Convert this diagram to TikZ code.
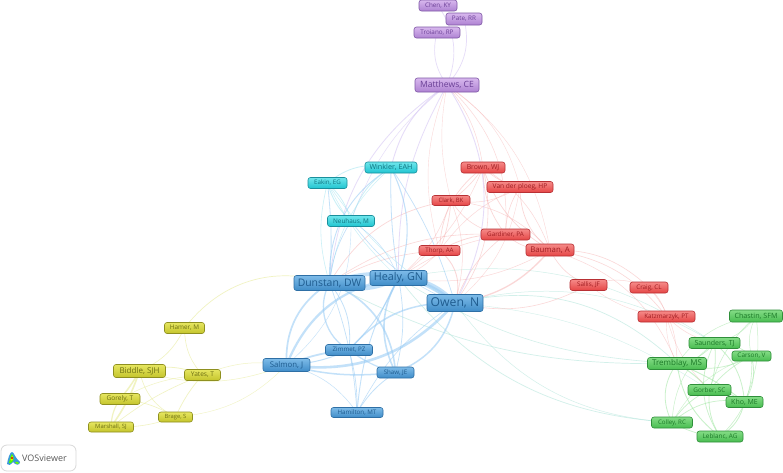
\documentclass[tikz,border=0pt]{standalone}
\usepackage{fontspec}
\setmainfont{Open Sans}
\pgfdeclarelayer{bg}
\pgfsetlayers{bg,main}
\definecolor{bT}{HTML}{1F5C8F}\definecolor{bU}{HTML}{7DBBE8}\definecolor{bL}{HTML}{3F8CC8}\definecolor{bD}{HTML}{2E6FA5}
\definecolor{cT}{HTML}{0F7480}\definecolor{cU}{HTML}{6FE6EC}\definecolor{cL}{HTML}{1FC4D0}\definecolor{cD}{HTML}{1A8F9C}
\definecolor{rT}{HTML}{A01E22}\definecolor{rU}{HTML}{F58A88}\definecolor{rL}{HTML}{E54545}\definecolor{rD}{HTML}{B83034}
\definecolor{gT}{HTML}{1C7A28}\definecolor{gU}{HTML}{84DC86}\definecolor{gL}{HTML}{48BC50}\definecolor{gD}{HTML}{2F8F3A}
\definecolor{yT}{HTML}{6E7014}\definecolor{yU}{HTML}{E6E660}\definecolor{yL}{HTML}{C4C42C}\definecolor{yD}{HTML}{8F9020}
\definecolor{pT}{HTML}{6A3F96}\definecolor{pU}{HTML}{D8B8EE}\definecolor{pL}{HTML}{AE82D2}\definecolor{pD}{HTML}{7F58A6}
\definecolor{eB}{HTML}{9CCDF5}\definecolor{eC}{HTML}{A8E6F2}\definecolor{eR}{HTML}{F6A8A8}\definecolor{eG}{HTML}{A6E8A8}
\definecolor{eY}{HTML}{E8EC9A}\definecolor{eP}{HTML}{D6C6F4}\definecolor{eT}{HTML}{B4E6DC}
\tikzset{
 auth/.style={rounded corners=2.5pt,line width=0.6pt,inner sep=0pt,align=center},
 blue/.style={auth,draw=bD,top color=bU,bottom color=bL,text=bT},
 cyan/.style={auth,draw=cD,top color=cU,bottom color=cL,text=cT},
 red/.style={auth,draw=rD,top color=rU,bottom color=rL,text=rT},
 green/.style={auth,draw=gD,top color=gU,bottom color=gL,text=gT},
 yellow/.style={auth,draw=yD,top color=yU,bottom color=yL,text=yT},
 purple/.style={auth,draw=pD,top color=pU,bottom color=pL,text=pT},
 sz/.style args={#1/#2/#3}{minimum width=#1pt,minimum height=#2pt,font=\fontsize{#3}{#3}\selectfont},
 lnk/.style={line cap=round,opacity=0.6},
}
\newcommand{\links}[2]{\foreach \a/\b/\c/\w in {#2}{\draw[lnk,#1,line width=\w pt] (\a.center) to[bend left=\c] (\b.center);}}
\begin{document}
\begin{tikzpicture}[x=1pt,y=-1pt]
\useasboundingbox (0,0) rectangle (783,472);
% purple
\node[purple,sz=38/11/6.3] (chen) at (438,5.5) {Chen, KY};
\node[purple,sz=36/12/6.3] (pate) at (464,19) {Pate, RR};
\node[purple,sz=46/11/6.3] (troiano) at (437,32.5) {Troiano, RP};
\node[purple,sz=64/14/8.6] (matthews) at (447,85) {Matthews, CE};
% cyan
\node[cyan,sz=52/11/7.2] (winkler) at (391,167.5) {Winkler, EAH};
\node[cyan,sz=39/11/6.2] (eakin) at (327.5,183) {Eakin, EG};
\node[cyan,sz=47/11/6.4] (neuhaus) at (351,221) {Neuhaus, M};
% red
\node[red,sz=44/11/6.9] (brown) at (483,167.5) {Brown, WJ};
\node[red,sz=66/11/6.6] (vdp) at (520,187) {Van der ploeg, HP};
\node[red,sz=38/10/6] (clark) at (451,200.5) {Clark, BK};
\node[red,sz=49/11/6.3] (gardiner) at (505.5,234.5) {Gardiner, PA};
\node[red,sz=41/10/6.2] (thorp) at (439.5,250.5) {Thorp, AA};
\node[red,sz=48/12/7.8] (bauman) at (550,250) {Bauman, A};
\node[red,sz=37/11/6.3] (sallis) at (588.5,285) {Sallis, JF};
\node[red,sz=38/11/6.3] (craig) at (649,287.5) {Craig, CL};
\node[red,sz=57/11/6.3] (katz) at (666.5,316.5) {Katzmarzyk, PT};
% blue
\node[blue,sz=71/15/10.4] (dunstan) at (329.5,283) {Dunstan, DW};
\node[blue,sz=57/15/10.8] (healy) at (398.5,278) {Healy, GN};
\node[blue,sz=56/17/12.2] (owen) at (455,303) {Owen, N};
\node[blue,sz=47/13/7.8] (salmon) at (286.5,365) {Salmon, J};
\node[blue,sz=47/11/6.2] (zimmet) at (349,350) {Zimmet, PZ};
\node[blue,sz=37/11/6.2] (shaw) at (395.5,372.5) {Shaw, JE};
\node[blue,sz=52/10/6.2] (hamilton) at (357,412.5) {Hamilton, MT};
% green
\node[green,sz=53/12/7.2] (chastin) at (756,316) {Chastin, SFM};
\node[green,sz=51/11/7] (saunders) at (714.5,343) {Saunders, TJ};
\node[green,sz=39/10/6.4] (carson) at (751.5,356) {Carson, V};
\node[green,sz=59/12/8] (tremblay) at (677,363.5) {Tremblay, MS};
\node[green,sz=43/11/6.4] (gorber) at (709.5,390) {Gorber, SC};
\node[green,sz=37/11/7] (kho) at (744.5,402) {Kho, ME};
\node[green,sz=41/11/6.2] (colley) at (672,422.5) {Colley, RC};
\node[green,sz=46/11/6.4] (leblanc) at (720,436.5) {Leblanc, AG};
% yellow
\node[yellow,sz=40/11/6.4] (hamer) at (184.5,328) {Hamer, M};
\node[yellow,sz=52/13/8] (biddle) at (139.5,371) {Biddle, SJH};
\node[yellow,sz=36/11/6.6] (yates) at (202.5,375) {Yates, T};
\node[yellow,sz=40/11/6.6] (gorely) at (120,399) {Gorely, T};
\node[yellow,sz=34/10/5.8] (brage) at (175.5,417) {Brage, S};
\node[yellow,sz=45/10/5.9] (marshall) at (111,427) {Marshall, SJ};
% logo box
\node[rounded corners=6pt,draw=black!15,line width=0.8pt,fill=white,minimum width=75pt,minimum height=26pt,inner sep=0pt] (vosbox) at (38.5,458) {};
\node[anchor=west,inner sep=0pt,text=black!65,font=\fontsize{9}{9}\selectfont] (vostext) at (22,458.5) {VOSviewer};
\fill[cyan!70!blue!80] (7,464) .. controls (8,458) and (10,452) .. (12,452) .. controls (14,452) and (15,458) .. (20,462) .. controls (20,466) and (15,465) .. (13,462) .. controls (11,465) and (8,466) .. (7,464) -- cycle;
\fill[green!70!yellow] (9,463) .. controls (10,458) and (11,455) .. (12,454) .. controls (14,457) and (14,460) .. (13,461) .. controls (11,463) and (10,464) .. (9,463) -- cycle;
\fill[yellow!90!orange] (10.5,460) .. controls (11,457) and (12,456) .. (12.5,456) .. controls (13.5,458) and (13.5,460) .. (12,460.5) -- cycle;
\fill[red!85!black] (12,458) circle (1.1);
\fill[green!60!yellow] (15,462) .. controls (17,461) and (19,462) .. (19,463.5) .. controls (17,464.5) and (16,464) .. (15,462) -- cycle;
\begin{pgfonlayer}{bg}
\fill[white] (0,0) rectangle (783,472);
\links{eG}{
 tremblay/saunders/-20/0.7,tremblay/carson/-22/0.7,tremblay/gorber/8/1.0,tremblay/kho/8/0.9,tremblay/colley/-32/0.8,tremblay/leblanc/-22/0.9,
 saunders/carson/20/0.7,saunders/gorber/12/0.8,saunders/kho/22/0.8,saunders/colley/-25/0.5,saunders/leblanc/-30/0.7,saunders/chastin/-20/0.5,
 chastin/carson/-20/0.5,chastin/gorber/-15/0.5,chastin/kho/15/0.5,carson/gorber/-12/0.7,carson/kho/22/0.7,carson/leblanc/25/0.6,carson/colley/-20/0.4,
 gorber/kho/15/0.8,gorber/colley/-15/0.7,gorber/leblanc/-18/0.8,kho/colley/-25/0.7,kho/leblanc/22/0.8,colley/leblanc/-12/0.7,tremblay/chastin/22/0.5}
\links{eT}{
 owen/tremblay/28/0.7,dunstan/tremblay/-14/0.7,healy/tremblay/-14/0.6,healy/colley/-24/0.7,owen/colley/-25/0.5,owen/saunders/22/0.5,owen/gorber/14/0.4,healy/saunders/22/0.5}
\links{eR,opacity=0.45}{
 brown/gardiner/-18/0.7,brown/clark/10/0.6,brown/thorp/-25/0.7,brown/vdp/-15/0.6,brown/bauman/-20/0.7,brown/bauman/18/0.5,brown/owen/24/0.6,brown/healy/15/0.5,
 clark/gardiner/-25/0.6,clark/thorp/8/0.7,clark/healy/15/0.5,clark/dunstan/-25/0.7,clark/vdp/-20/0.5,clark/owen/18/0.5,clark/bauman/20/0.5,
 vdp/gardiner/-15/0.6,vdp/bauman/-25/0.7,vdp/thorp/-15/0.5,vdp/owen/20/0.4,gardiner/thorp/-15/0.8,gardiner/bauman/-20/0.6,gardiner/owen/-15/0.6,gardiner/dunstan/-18/0.6,gardiner/healy/-12/0.5,
 thorp/owen/35/0.9,thorp/dunstan/-12/0.6,thorp/healy/15/0.5,bauman/owen/20/1.3,bauman/healy/18/0.5,bauman/sallis/-20/0.6,bauman/craig/22/0.6,bauman/katz/22/0.6,
 sallis/craig/20/0.5,sallis/owen/20/0.6,sallis/katz/-15/0.4,craig/katz/15/0.5,craig/tremblay/20/0.5,katz/tremblay/-15/0.4,katz/saunders/-15/0.5,katz/gorber/-15/0.4,bauman/tremblay/25/0.5,
 matthews/brown/15/0.5,matthews/clark/-12/0.4,matthews/vdp/20/0.4,matthews/gardiner/25/0.5,matthews/bauman/22/0.4,matthews/thorp/-18/0.4}
\links{eP}{
 chen/matthews/28/0.7,pate/matthews/28/0.7,troiano/matthews/-25/0.7,matthews/winkler/-20/0.9,matthews/owen/31/0.9,matthews/healy/-15/0.8,matthews/dunstan/-25/0.8,matthews/neuhaus/-15/0.5}
\links{eY}{
 hamer/dunstan/35/0.7,hamer/biddle/20/0.6,hamer/yates/-20/0.6,
 biddle/yates/18/0.8,biddle/brage/-25/0.6,biddle/salmon/-18/0.5,
 gorely/yates/12/0.5,gorely/brage/12/0.6,brage/salmon/-20/0.4,
 marshall/brage/-10/0.6,marshall/yates/8/0.6,brage/yates/8/0.7,yates/salmon/15/0.5}
\links{eY}{biddle/gorely/5/1.5,biddle/marshall/8/1.6,gorely/marshall/-15/1.2}
\links{eC}{
 eakin/neuhaus/-15/0.9,eakin/neuhaus/15/0.7,eakin/winkler/25/0.8,winkler/neuhaus/-20/0.8,eakin/healy/-10/0.5,eakin/owen/-12/0.5,eakin/dunstan/-15/0.6,winkler/dunstan/-20/0.5}
\links{eB}{
 winkler/healy/22/1.1,winkler/healy/-5/0.8,winkler/owen/8/0.7,winkler/dunstan/-30/0.9,neuhaus/dunstan/-12/0.7,neuhaus/owen/-15/0.6,neuhaus/healy/18/0.5,neuhaus/salmon/25/0.4,eakin/dunstan/5/0.8,
 dunstan/healy/-22/4.5,dunstan/owen/29/3.8,healy/owen/22/4.2,
 salmon/dunstan/30/1.7,salmon/healy/30/2.2,salmon/owen/-28/2.6,salmon/zimmet/8/1.8,salmon/shaw/-10/1.5,salmon/zimmet/-10/1.0,
 zimmet/owen/25/1.5,zimmet/dunstan/45/1.3,dunstan/zimmet/22/0.8,zimmet/healy/-10/1.0,zimmet/shaw/-10/1.2,
 dunstan/shaw/32/1.6,healy/shaw/-28/1.6,owen/shaw/28/1.5,healy/shaw/12/0.7,
 hamilton/dunstan/-8/0.7,hamilton/healy/12/0.9,hamilton/owen/14/0.6,hamilton/shaw/12/0.8,hamilton/salmon/-20/0.5,hamilton/zimmet/-8/0.7}
\end{pgfonlayer}
\end{tikzpicture}
\end{document}
